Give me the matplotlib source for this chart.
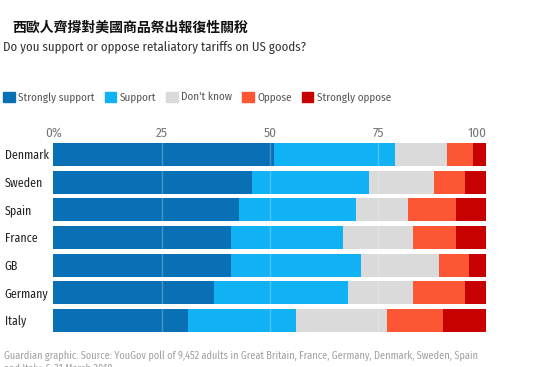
import matplotlib
matplotlib.use('Agg')
import matplotlib.pyplot as plt
import numpy as np

countries = ['Denmark', 'Sweden', 'Spain', 'France', 'GB', 'Germany', 'Italy']
strongly_support = [51, 46, 43, 41, 41, 37, 31]
support = [28, 27, 27, 26, 30, 31, 25]
dont_know = [12, 15, 12, 16, 18, 15, 21]
oppose = [6, 7, 11, 10, 7, 12, 13]
strongly_oppose = [3, 5, 7, 7, 4, 5, 10]

series_names = ['Strongly support', 'Support', "Don't know", 'Oppose', 'Strongly oppose']
series_colors = ['#0a70b6', '#10b2f4', '#dadada', '#fd5634', '#c70000']
tick_values = [0, 25, 50, 75, 100]
tick_labels = ['0%', '25', '50', '75', '100']

title = '西歐人齊撐對美國商品祭出報復性關稅'
subtitle = 'Do you support or oppose retaliatory tariffs on US goods?'
footer = ('Guardian graphic. Source: YouGov poll of 9,452 adults in Great Britain, France, Germany, Denmark, Sweden, Spain\n'
          'and Italy, 6-21 March 2018')

# narrow humanist sans, closest to the Guardian's own face
narrow = ['Fira Sans Condensed', 'PT Sans Narrow', 'Roboto Condensed', 'DejaVu Sans']
plt.rcParams['font.family'] = narrow

fig = plt.figure(figsize=(5.5, 3.67), dpi=100)
ax = fig.add_axes([0.097, 0.089, 0.787, 0.528])

values = [strongly_support, support, dont_know, oppose, strongly_oppose]
y = np.arange(len(countries))
left = np.zeros(len(countries))
for vals, name, col in zip(values, series_names, series_colors):
    ax.barh(y, vals, left=left, height=0.83, color=col, label=name, zorder=2)
    left += np.array(vals)

# faint gridlines show through the bars
for t in tick_values[1:-1]:
    ax.axvline(t, color='white', alpha=0.25, lw=1, zorder=3)

ax.set_xlim(0, 100)
ax.set_ylim(len(countries) - 0.5, -0.5)
ax.xaxis.tick_top()
ax.set_xticks(tick_values)
ax.set_xticklabels(tick_labels, fontsize=9.5, color='#777777')
ax.get_xticklabels()[-1].set_horizontalalignment('right')
ax.tick_params(axis='x', length=0, pad=1)
ax.set_yticks(y)
ax.set_yticklabels(countries, fontsize=8.6, color='#222222', ha='left')
ax.tick_params(axis='y', length=0, pad=35)
for s in ax.spines.values():
    s.set_visible(False)

fig.text(0.022, 0.925, title, family=['Noto Sans CJK TC', 'DejaVu Sans'], fontweight='bold',
         fontsize=10, va='center', ha='left', color='#111111')
fig.text(0.005, 0.87, subtitle, fontsize=9.2, va='center', ha='left', color='#333333')

handles = [plt.Rectangle((0, 0), 1, 1, color=c) for c in series_colors]
leg = fig.legend(handles, series_names, loc='center left', bbox_to_anchor=(-0.012, 0.735), ncol=5,
                 frameon=False, handlelength=1.0, handleheight=1.0, handletextpad=0.35,
                 columnspacing=0.9, prop={'size': 8.0})
for t in leg.get_texts():
    t.set_color('#555555')

fig.text(0.007, 0.046, footer, fontsize=7.4, va='top', ha='left',
         color='#a0a0a0', linespacing=1.3)

fig.savefig('out.png', dpi=100)
